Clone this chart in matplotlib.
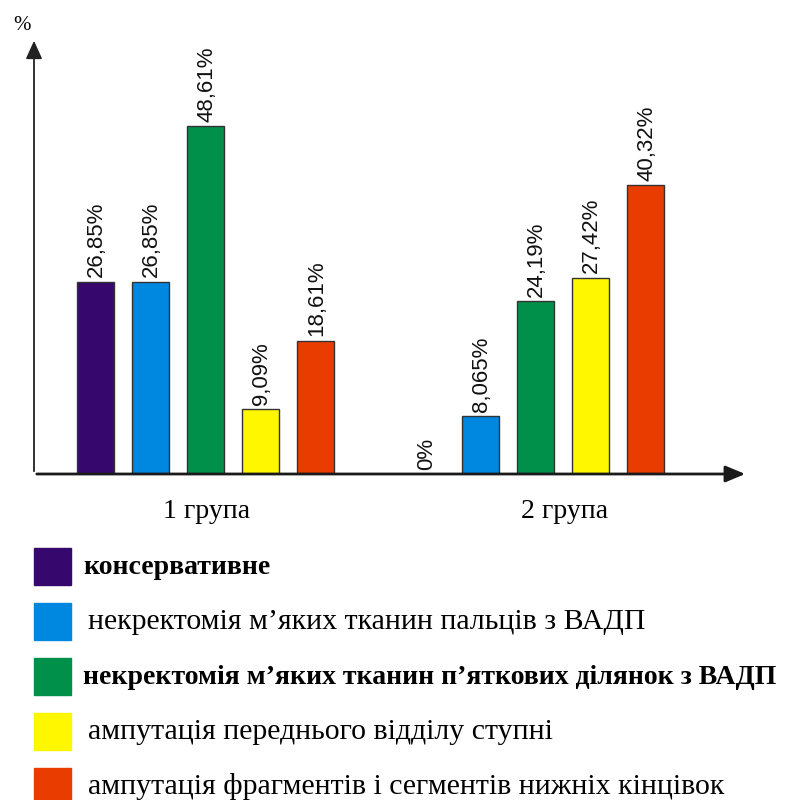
import matplotlib as mpl
mpl.use('Agg')
import matplotlib.pyplot as plt
import numpy as np

# дані
groups = ['1 група', '2 група']
categories = [
    'консервативне',
    'некректомія м\u2019яких тканин пальців з ВАДП',
    'некректомія м\u2019яких тканин п\u2019яткових ділянок з ВАДП',
    'ампутація переднього відділу ступні',
    'ампутація фрагментів і сегментів нижніх кінцівок',
]
values_g1 = [26.85, 26.85, 48.61, 9.09, 18.61]
values_g2 = [0, 8.065, 24.19, 27.42, 40.32]
labels_g1 = ['26,85%', '26,85%', '48,61%', '9,09%', '18,61%']
labels_g2 = ['0%', '8,065%', '24,19%', '27,42%', '40,32%']
colors = ['#36086E', '#0088E0', '#00904A', '#FFF700', '#E83C00']
bold_legend = [True, False, True, False, False]

W, H = 793, 800
fig = plt.figure(figsize=(W / 100, H / 100), dpi=100)

# осі в пікселях: початок (34, 474), верх 38, правий край 748
x0, y0, x1, y1 = 34, 474, 748, 38
ax = fig.add_axes([x0 / W, 1 - y0 / H, (x1 - x0) / W, (y0 - y1) / H])
step = 55.0  # відстань між стовпцями, px
ax.set_xlim(0, (x1 - x0) / step)
ax.set_ylim(0, (y0 - y1) / 7.16)
ax.axis('off')

group_centers = [3.12, 9.12]
offsets = np.arange(-2, 3)
width = 0.67

for gc, vals, labs in zip(group_centers, [values_g1, values_g2], [labels_g1, labels_g2]):
    xs = gc + offsets
    ax.bar(xs, vals, width=width, color=colors, edgecolor='#333333', linewidth=1.0, zorder=2)
    for x, v, t in zip(xs, vals, labs):
        ax.text(x + 0.02, v + 0.6, t, rotation=90, ha='center', va='bottom',
                fontsize=16, family=['Liberation Sans', 'DejaVu Sans'], color='#111111')

# стрілки осей
ax.annotate('', xy=(0, 1.0), xytext=(0, 0), xycoords='axes fraction',
            arrowprops=dict(arrowstyle='-|>,head_length=0.55,head_width=0.25',
                            color='#222222', lw=1.3, mutation_scale=20),
            annotation_clip=False)
ax.annotate('', xy=(1.0, 0), xytext=(0, 0), xycoords='axes fraction',
            arrowprops=dict(arrowstyle='-|>,head_length=0.6,head_width=0.25',
                            color='#1a1a1a', lw=2.0, mutation_scale=20),
            annotation_clip=False)

serif = ['Liberation Serif', 'DejaVu Serif']
fig.text(22 / W, 1 - 25 / H, '%', fontsize=15, family=serif, ha='center', va='center')
fig.text(207 / W, 1 - 511 / H, groups[0], fontsize=20, family=serif, ha='center', va='center')
fig.text(565 / W, 1 - 511 / H, groups[1], fontsize=20, family=serif, ha='center', va='center')

# легенда
for i, (cat, c, b) in enumerate(zip(categories, colors, bold_legend)):
    ytop = 548 + i * 55
    fig.patches.append(plt.Rectangle((34 / W, 1 - (ytop + 37) / H), 37 / W, 37 / H,
                                     transform=fig.transFigure, color=c, figure=fig))
    fig.text((83 if b else 88) / W, 1 - (ytop + 19) / H, cat,
             fontsize=20 if b else 21.5, family=serif,
             fontweight='bold' if b else 'normal', ha='left', va='center')

plt.savefig('out.png', dpi=100)
